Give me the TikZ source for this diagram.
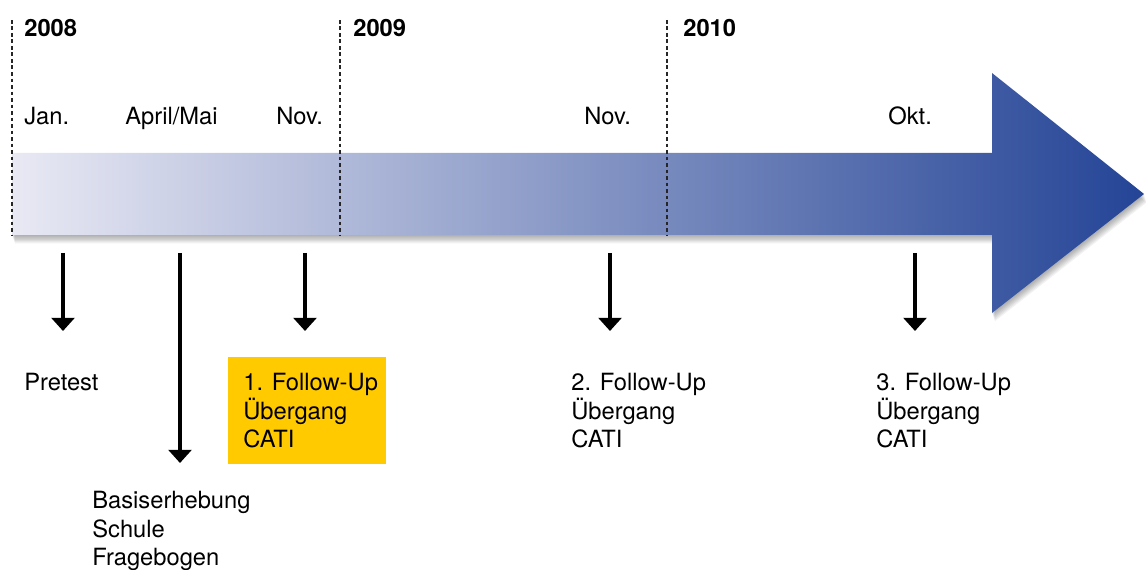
\documentclass[tikz,border=0pt]{standalone}
\usepackage{fontspec}
\setmainfont{TeX Gyre Heros}
\usetikzlibrary{arrows.meta}
\definecolor{BarLight}{RGB}{233,233,244}
\definecolor{BarMid}{RGB}{136,140,195}
\definecolor{BarDark}{RGB}{36,68,150}
\definecolor{Gold}{RGB}{255,202,0}

\begin{document}
\begin{tikzpicture}[x=0.02cm, y=-0.02cm,
    every node/.style={font=\fontsize{13.5}{16.3}\selectfont, inner sep=0},
    year/.style={anchor=base west, font=\fontsize{13.5}{16.3}\selectfont\bfseries},
    month/.style={anchor=base west},
    entry/.style={anchor=north west, align=left},
    pointer/.style={line width=1.9pt, -{Triangle[width=13pt,length=7.5pt]}},
    yearsep/.style={line width=0.8pt, dash pattern=on 2.2pt off 1.5pt, black!85},
    bigarrow/.style={insert path={(12,153) -- (992,153) -- (992,73) -- (1144,194) -- (992,313) -- (992,235) -- (12,235) -- cycle}}]
    \useasboundingbox (0,0) rectangle (1146,570);
    % timeline arrow with soft shadow
    \foreach \d in {1,...,7}
        \fill[black, opacity=0.05, shift={(0.4*\d,1.2*\d)}, bigarrow];
    \shade[bigarrow, left color=BarLight, middle color=BarMid, right color=BarDark];
    \draw[yearsep] (12,20) -- (12,235);  \draw[yearsep] (340,20) -- (340,235);  \draw[yearsep] (667,20) -- (667,235);
    % years and months
    \node[year] (y08) at (24,37) {2008};
    \node[year] (y09) at (353,37) {2009};
    \node[year] (y10) at (683,37) {2010};
    \node[month] (jan) at (24,125) {Jan.};
    \node[month] (apr) at (125,125) {April/Mai};
    \node[month] (nov08) at (276,125) {Nov.};
    \node[month] (nov09) at (584,125) {Nov.};
    \node[month] (okt) at (888,125) {Okt.};
    % survey waves
    \node[fill=Gold, anchor=north west, minimum width=3.16cm, minimum height=2.14cm] (hl) at (228,357) {};
    \node[entry] (pre) at (24,373) {Pretest};
    \node[entry] (base) at (92,491) {Basiserhebung\\Schule\\Fragebogen};
    \node[entry] (fu1) at (243,373) {1. Follow-Up\\Übergang\\CATI};
    \node[entry] (fu2) at (571,373) {2. Follow-Up\\Übergang\\CATI};
    \node[entry] (fu3) at (876,373) {3. Follow-Up\\Übergang\\CATI};
    \foreach \x/\n in {63/a, 180/b, 305/c, 610/d, 915/e}
        \coordinate (s\n) at (\x,253);
    \coordinate (ea) at (63,331);  \coordinate (eb) at (180,463);  \coordinate (ec) at (305,331);
    \coordinate (ed) at (610,331);  \coordinate (ee) at (915,331);
    \foreach \n in {a,b,c,d,e}
        \draw[pointer] (s\n) -- (e\n);
\end{tikzpicture}
\end{document}
